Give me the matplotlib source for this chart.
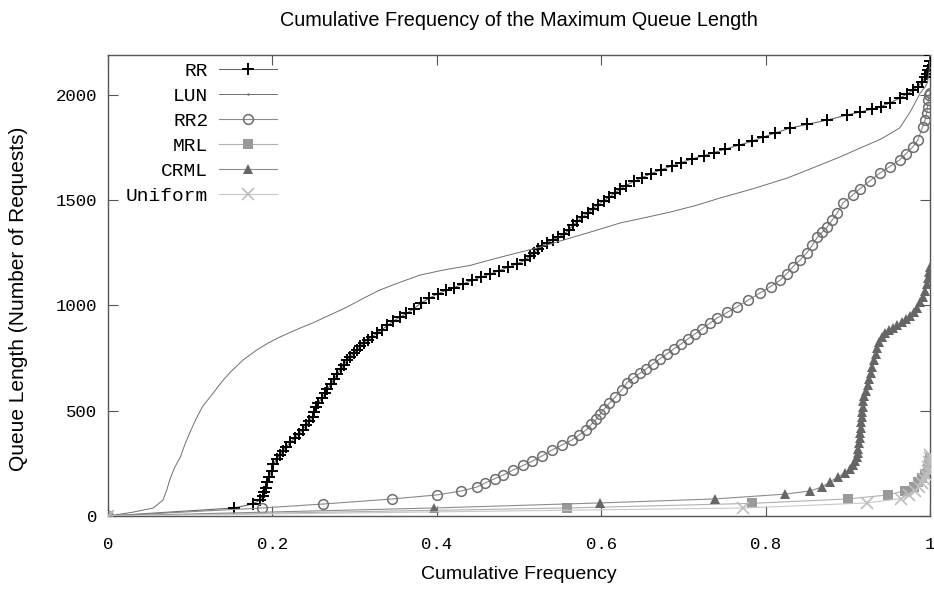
import matplotlib
matplotlib.use("Agg")
import matplotlib.pyplot as plt

# ----------------------------
# Data
# ----------------------------
rr_x = [0, 0.153, 0.176, 0.185, 0.188, 0.19, 0.192, 0.194, 0.196, 0.199, 0.201, 0.205, 0.209,
        0.213, 0.217, 0.222, 0.227, 0.232, 0.237, 0.241, 0.245, 0.249, 0.251, 0.253, 0.256,
        0.26, 0.264, 0.267, 0.271, 0.275, 0.279, 0.283, 0.287, 0.291, 0.295, 0.299, 0.303,
        0.307, 0.311, 0.316, 0.321, 0.327, 0.333, 0.34, 0.347, 0.355, 0.363, 0.372, 0.381,
        0.391, 0.401, 0.411, 0.421, 0.432, 0.443, 0.454, 0.465, 0.476, 0.487, 0.498, 0.507,
        0.513, 0.518, 0.523, 0.528, 0.534, 0.541, 0.548, 0.555, 0.561, 0.566, 0.571, 0.577,
        0.584, 0.59, 0.596, 0.603, 0.61, 0.617, 0.623, 0.63, 0.64, 0.65, 0.661, 0.673, 0.686,
        0.697, 0.711, 0.725, 0.737, 0.751, 0.768, 0.783, 0.797, 0.812, 0.83, 0.85, 0.875,
        0.899, 0.915, 0.929, 0.94, 0.951, 0.963, 0.972, 0.979, 0.985, 0.99, 0.994, 0.996,
        0.998, 0.999, 1.0, 1.0]
rr_y = [0, 38, 57, 76, 95, 115, 135, 160, 185, 215, 245, 270, 290,
        310, 330, 350, 370, 390, 410, 430, 450, 472, 495, 517, 538,
        560, 582, 602, 625, 650, 675, 697, 718, 740, 757, 773, 790,
        806, 822, 838, 852, 868, 885, 905, 925, 945, 962, 985, 1012,
        1035, 1055, 1072, 1085, 1103, 1120, 1135, 1150, 1166, 1182, 1198, 1215,
        1233, 1250, 1267, 1283, 1298, 1312, 1325, 1340, 1360, 1382, 1400, 1420,
        1440, 1460, 1478, 1497, 1515, 1535, 1553, 1570, 1590, 1608, 1627, 1645, 1663,
        1678, 1697, 1712, 1726, 1743, 1762, 1780, 1800, 1820, 1843, 1860, 1881,
        1905, 1919, 1932, 1945, 1962, 1985, 2005, 2022, 2040, 2060, 2085, 2100,
        2120, 2140, 2160, 2190]

lun_x = [0, 0.03, 0.055, 0.067, 0.072, 0.075, 0.081, 0.088, 0.094, 0.1, 0.107, 0.115, 0.128,
         0.138, 0.148, 0.164, 0.181, 0.195, 0.209, 0.229, 0.249, 0.27, 0.291, 0.311, 0.331,
         0.355, 0.38, 0.41, 0.44, 0.473, 0.498, 0.522, 0.542, 0.562, 0.592, 0.623, 0.654,
         0.684, 0.715, 0.745, 0.785, 0.826, 0.866, 0.89, 0.915, 0.94, 0.963, 0.976, 0.988,
         0.994, 0.997, 0.999, 1.0]
lun_y = [0, 18, 38, 76, 130, 171, 230, 280, 345, 400, 460, 520, 584,
         635, 680, 740, 789, 822, 850, 885, 917, 955, 993, 1035, 1074,
         1110, 1145, 1170, 1190, 1225, 1250, 1273, 1297, 1320, 1355, 1392, 1418,
         1444, 1475, 1511, 1555, 1605, 1667, 1705, 1748, 1790, 1843, 1920, 2009,
         2038, 2060, 2120, 2190]

rr2_x = [0, 0.187, 0.262, 0.346, 0.4, 0.43, 0.449, 0.459, 0.471, 0.481, 0.493, 0.505, 0.516,
         0.528, 0.54, 0.552, 0.564, 0.573, 0.582, 0.588, 0.594, 0.599, 0.604, 0.61, 0.617,
         0.625, 0.631, 0.639, 0.647, 0.655, 0.663, 0.671, 0.68, 0.688, 0.697, 0.705, 0.714,
         0.723, 0.732, 0.741, 0.753, 0.765, 0.779, 0.793, 0.806, 0.818, 0.826, 0.833, 0.842,
         0.85, 0.857, 0.863, 0.869, 0.875, 0.881, 0.887, 0.894, 0.906, 0.915, 0.927, 0.939,
         0.951, 0.963, 0.971, 0.979, 0.985, 0.991, 0.994, 0.996, 0.997, 0.998, 0.999, 1.0]
rr2_y = [0, 38, 57, 81, 100, 119, 138, 157, 178, 195, 219, 240, 260,
         285, 313, 337, 360, 385, 410, 435, 460, 485, 510, 537, 565,
         599, 632, 655, 678, 700, 723, 746, 770, 793, 817, 840, 865,
         890, 915, 941, 967, 993, 1026, 1059, 1090, 1121, 1152, 1183, 1216,
         1249, 1287, 1325, 1349, 1373, 1406, 1439, 1487, 1525, 1555, 1592, 1629,
         1660, 1691, 1722, 1753, 1785, 1848, 1880, 1915, 1943, 1975, 2000, 2010]

mrl_x = [0, 0.558, 0.783, 0.9, 0.949, 0.969, 0.98, 0.986, 0.99, 0.994, 0.997, 0.999, 1.0]
mrl_y = [0, 38, 60, 81, 100, 120, 140, 160, 180, 200, 225, 250, 275]

crml_x = [0, 0.396, 0.598, 0.738, 0.824, 0.854, 0.869, 0.878, 0.888, 0.897, 0.903, 0.906,
          0.909, 0.911, 0.912, 0.913, 0.914, 0.915, 0.915, 0.916, 0.916, 0.917, 0.917, 0.918,
          0.918, 0.92, 0.922, 0.924, 0.926, 0.928, 0.93, 0.932, 0.934, 0.936, 0.938, 0.941,
          0.945, 0.95, 0.955, 0.96, 0.966, 0.971, 0.976, 0.98, 0.984, 0.988, 0.991, 0.994,
          0.996, 0.998, 0.999, 1.0]
crml_y = [0, 38, 62, 81, 104, 119, 138, 162, 185, 205, 222, 240,
          260, 280, 300, 320, 345, 370, 395, 420, 445, 470, 495, 520,
          545, 570, 595, 620, 650, 680, 710, 740, 770, 800, 825, 850,
          870, 882, 893, 905, 920, 935, 952, 970, 990, 1015, 1040, 1070,
          1100, 1130, 1160, 1185]

uni_x = [0, 0.773, 0.923, 0.965, 0.975, 0.982, 0.987, 0.99, 0.993, 0.995, 0.997, 0.998,
         0.999, 1.0, 1.0]
uni_y = [0, 38, 62, 83, 100, 118, 136, 155, 175, 195, 215, 235, 255, 275, 290]

x_ticks = [0, 0.2, 0.4, 0.6, 0.8, 1.0]
x_ticklabels = ["0", "0.2", "0.4", "0.6", "0.8", "1"]
y_ticks = [0, 500, 1000, 1500, 2000]

SANS = ["Liberation Sans Narrow", "Liberation Sans", "DejaVu Sans"]
MONO = ["Liberation Mono", "DejaVu Sans Mono"]

fig = plt.figure(figsize=(9.34, 5.92), dpi=100)
ax = fig.add_axes([108 / 934, 1 - 516 / 592, 822 / 934, 461 / 592])

ax.plot(rr_x, rr_y, color="#6a6a6a", lw=0.8, marker="+", ms=9, mew=1.4,
        mec="black", label="RR", zorder=3)
ax.plot(lun_x, lun_y, color="#707070", lw=0.7, marker=".", ms=1.5,
        markevery=[len(lun_x) - 1], label="LUN", zorder=3)
ax.plot(rr2_x, rr2_y, color="#8a8a8a", lw=0.8, marker="o", ms=7, mew=1.1,
        mec="#6e6e6e", mfc="none", label="RR2", zorder=4)
ax.plot(mrl_x, mrl_y, color="#b0b0b0", lw=0.8, marker="s", ms=7, mew=0,
        mfc="#9a9a9a", label="MRL", zorder=5)
ax.plot(crml_x, crml_y, color="#8c8c8c", lw=0.8, marker="^", ms=7.5, mew=0,
        mfc="#666666", label="CRML", zorder=6)
ax.plot(uni_x, uni_y, color="#c8c8c8", lw=0.8, marker="x", ms=8, mew=1.2,
        mec="#bdbdbd", label="Uniform", zorder=7)

ax.set_xlim(0, 1)
ax.set_ylim(0, 2190)
ax.set_xticks(x_ticks)
ax.set_xticklabels(x_ticklabels)
ax.set_yticks(y_ticks)

for spine in ax.spines.values():
    spine.set_color("#555555")
    spine.set_linewidth(1.0)
ax.tick_params(direction="in", length=7, width=0.8, color="#555555",
               top=True, right=True, labelsize=12.5, labelcolor="black")
ax.tick_params(axis="x", pad=15)
ax.tick_params(axis="y", pad=8)
for lab in ax.get_xticklabels() + ax.get_yticklabels():
    lab.set_family(MONO)

ax.set_title("Cumulative Frequency of the Maximum Queue Length",
             fontsize=14.3, family=SANS, pad=21)
ax.set_xlabel("Cumulative Frequency", fontsize=14, family=SANS, labelpad=10)
ax.set_ylabel("Queue Length (Number of Requests)", fontsize=15, family=SANS)
ax.yaxis.set_label_coords(-0.097, 0.471)

leg = ax.legend(loc="upper right", bbox_to_anchor=(0.206, 0.985), frameon=False,
                markerfirst=False, numpoints=1, handlelength=3.0,
                handletextpad=0.55, labelspacing=0.38, borderpad=0,
                borderaxespad=0, prop={"family": MONO, "size": 14})

fig.savefig("out.png", dpi=100)
